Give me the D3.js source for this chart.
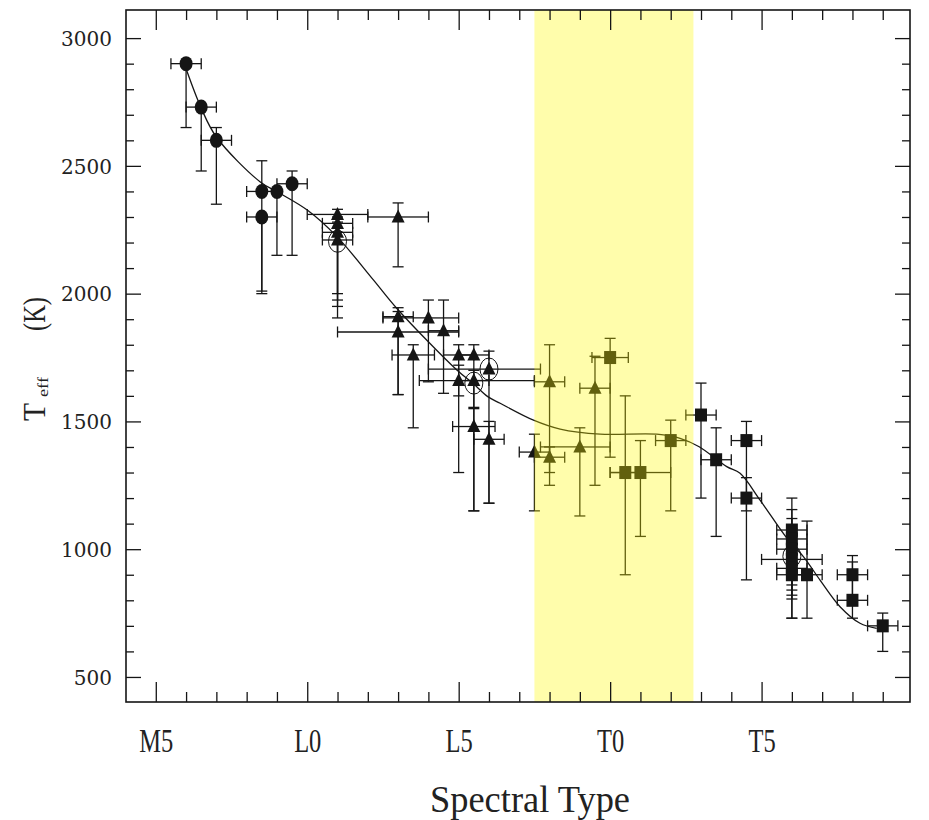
<!DOCTYPE html>
<html>
<head>
<meta charset="utf-8">
<script src="https://cdn.jsdelivr.net/npm/d3@7"></script>
<style>
  html, body { margin: 0; padding: 0; background: #fff; }
  svg { display: block; }
</style>
</head>
<body>
<svg id="chart" width="929" height="820"></svg>
<script>
// ---------------- DATA ----------------
// spectral type code: M5=-5, L0=0, L5=5, T0=10, T5=15
// each row: [spectralType, Teff, TeffLow, TeffHigh, sptLow, sptHigh]
const mDwarfs = [
  [-4,   2900, 2650, 2900, -4.5, -3.5],
  [-3.5, 2730, 2480, 2730, -4,   -3  ],
  [-3,   2600, 2350, 2650, -3.5, -2.5],
  [-1.5, 2400, 2010, 2520, -2,   -1  ],
  [-1.5, 2300, 2000, 2300, -2,   -1  ],
  [-1,   2400, 2150, 2400, -1,   -1  ],
  [-0.5, 2430, 2150, 2480, -1,    0  ]
];
const lDwarfs = [
  [1,   2310, 1950, 2330, 0,   2  ],
  [1,   2275, 2000, 2300, 0.5, 1.5],
  [1,   2240, 1975, 2280, 0.5, 1.5],
  [1,   2210, 1905, 2240, 0.5, 1.5],
  [3,   2300, 2105, 2355, 2,   4  ],
  [3,   1910, 1605, 1945, 2.5, 3.5],
  [3,   1850, 1605, 1930, 1,   5  ],
  [4,   1905, 1655, 1975, 2.5, 5  ],
  [4.5, 1855, 1610, 1975, 4,   5  ],
  [3.5, 1760, 1475, 1800, 2.8, 4.2],
  [5,   1760, 1300, 1800, 4.5, 5.5],
  [5.5, 1760, 1150, 1800, 5,   6  ],
  [6,   1705, 1180, 1775, 4,   7.7],
  [5,   1660, 1600, 1720, 3.7, 7.5],
  [5.5, 1660, 1550, 1700, 5,   6  ],
  [5.5, 1480, 1150, 1555, 4.8, 6.2],
  [6,   1430, 1180, 1500, 5.5, 6.5],
  [7.5, 1380, 1150, 1450, 7,   8  ],
  [8,   1360, 1250, 1400, 7.5, 8.5],
  [8,   1655, 1300, 1800, 7.5, 8.5],
  [9,   1400, 1130, 1475, 7.7, 10 ],
  [9.5, 1630, 1250, 1755, 9,   10 ]
];
const tDwarfs = [
  [10,   1750, 1360, 1825, 9.4,  10.6],
  [10.5, 1300,  900, 1600, 10,   11  ],
  [11,   1300, 1050, 1425, 10,   12  ],
  [12,   1425, 1150, 1505, 11.5, 12.5],
  [13,   1525, 1200, 1650, 12.5, 13.5],
  [13.5, 1350, 1050, 1475, 13,   14  ],
  [14.5, 1425, 1150, 1500, 14,   15  ],
  [14.5, 1200,  880, 1280, 14,   15  ],
  [16,   1075,  860, 1200, 15.5, 16.5],
  [16,   1040,  840, 1155, 15.5, 16.5],
  [16,   1000,  820, 1120, 15.5, 16.5],
  [16,    960,  730, 1080, 15,   17  ],
  [16,    925,  805, 1050, 15.5, 16.5],
  [16,    900,  730, 1000, 15.5, 16.5],
  [16.5,  900,  730, 1110, 16,   17  ],
  [18,    900,  780,  975, 17.5, 18.5],
  [18,    800,  730,  950, 17.5, 18.5],
  [19,    700,  600,  750, 18.5, 19.5]
];
// open rings marking special objects
const ringSpT  = [1, 5.5, 6, 16];
const ringTeff = [2205, 1650, 1705, 972];
// fitted relation
const fitSpT  = [-4, -3.5, -3, -1.55, -1, 0, 0.98, 2.19, 2.96, 4.94, 5.47, 5.96, 6.37, 7.47, 8.35, 9.67, 11.54, 12.31, 12.94, 13.85, 14.29, 14.95, 15.88, 16.38, 16.93, 17.59, 18.25, 18.8];
const fitTeff = [2880, 2726, 2613, 2437, 2399, 2327, 2223, 2053, 1942, 1701, 1649, 1597, 1571, 1505, 1470, 1450, 1450, 1434, 1401, 1323, 1297, 1192, 1036, 971, 879, 775, 710, 690];
// L/T transition band
const bandRange = [7.5, 12.75];
// ticks
const xMajorTicks  = [-5, 0, 5, 10, 15];
const xMajorLabels = ["M5", "L0", "L5", "T0", "T5"];
const xMinorTicks  = d3.range(-5, 20).filter(v => !xMajorTicks.includes(v));
const yMajorTicks  = [500, 1000, 1500, 2000, 2500, 3000];
const yMinorTicks  = d3.range(500, 3100, 100).filter(v => !yMajorTicks.includes(v));

// ---------------- LAYOUT ----------------
const L = 126, R = 910, T = 10, B = 702;
const svg = d3.select("#chart");
const x = d3.scaleLinear().domain([-6, 19.9]).range([125.5, R]);
const y = d3.scaleLinear().domain([402, 3110]).range([B, T]);
const ink = "#151515";

const data = svg.append("g");

// fit curve
const line = d3.line().x((d, i) => x(fitSpT[i])).y(d => y(d)).curve(d3.curveCatmullRom.alpha(0.5));
data.append("path").attr("d", line(fitTeff))
  .attr("fill", "none").attr("stroke", ink).attr("stroke-width", 1.3);

// error bars
function errorBars(rows) {
  const g = data.append("g").attr("stroke", ink).attr("stroke-width", 1.3).attr("fill", "none");
  const cap = 5.5;
  rows.forEach(r => {
    const [s, te, tlo, thi, slo, shi] = r;
    const cx = x(s), cy = y(te);
    if (tlo < te) {
      g.append("line").attr("x1", cx).attr("x2", cx).attr("y1", cy).attr("y2", y(tlo));
      g.append("line").attr("x1", cx - cap).attr("x2", cx + cap).attr("y1", y(tlo)).attr("y2", y(tlo));
    }
    if (thi > te) {
      g.append("line").attr("x1", cx).attr("x2", cx).attr("y1", cy).attr("y2", y(thi));
      g.append("line").attr("x1", cx - cap).attr("x2", cx + cap).attr("y1", y(thi)).attr("y2", y(thi));
    }
    if (slo < s) {
      g.append("line").attr("x1", cx).attr("x2", x(slo)).attr("y1", cy).attr("y2", cy);
      g.append("line").attr("x1", x(slo)).attr("x2", x(slo)).attr("y1", cy - cap).attr("y2", cy + cap);
    }
    if (shi > s) {
      g.append("line").attr("x1", cx).attr("x2", x(shi)).attr("y1", cy).attr("y2", cy);
      g.append("line").attr("x1", x(shi)).attr("x2", x(shi)).attr("y1", cy - cap).attr("y2", cy + cap);
    }
  });
}
errorBars(mDwarfs);
errorBars(lDwarfs);
errorBars(tDwarfs);

// markers
data.append("g").selectAll("ellipse").data(mDwarfs).join("ellipse")
  .attr("cx", d => x(d[0])).attr("cy", d => y(d[1]))
  .attr("rx", 6.5).attr("ry", 7.5).attr("fill", ink);

data.append("g").selectAll("path").data(lDwarfs).join("path")
  .attr("transform", d => `translate(${x(d[0])},${y(d[1])})`)
  .attr("d", "M0,-7.5 L6.5,5.5 L-6.5,5.5 Z").attr("fill", ink);

data.append("g").selectAll("rect").data(tDwarfs).join("rect")
  .attr("x", d => x(d[0]) - 6).attr("y", d => y(d[1]) - 6.5)
  .attr("width", 12).attr("height", 13).attr("fill", ink);

data.append("g").selectAll("ellipse").data(ringSpT).join("ellipse")
  .attr("cx", d => x(d)).attr("cy", (d, i) => y(ringTeff[i]))
  .attr("rx", 9).attr("ry", 11).attr("fill", "none")
  .attr("stroke", ink).attr("stroke-width", 1);

// yellow band, translucent over the data
svg.append("rect")
  .attr("x", x(bandRange[0])).attr("y", T)
  .attr("width", x(bandRange[1]) - x(bandRange[0])).attr("height", B - T)
  .attr("fill", "rgb(255,250,0)").attr("fill-opacity", 0.33);

// ---------------- AXES ----------------
function clean(g) { g.select(".domain").remove(); g.selectAll("line").attr("stroke", ink).attr("stroke-width", 1.3); }

// bottom
svg.append("g").attr("transform", `translate(0,${B})`)
  .call(d3.axisBottom(x).tickValues(xMinorTicks).tickSize(-10).tickFormat(""))
  .call(clean);
const xb = svg.append("g").attr("transform", `translate(0,${B})`)
  .call(d3.axisBottom(x).tickValues(xMajorTicks).tickSize(-20).tickFormat((d, i) => xMajorLabels[i]))
  .call(clean);
xb.selectAll("text")
  .attr("y", 50).attr("dy", 0)
  .attr("font-family", "'Liberation Serif', serif").attr("font-size", 34)
  .attr("fill", "#222").attr("transform", "scale(0.72,1)");
// top
svg.append("g").attr("transform", `translate(0,${T})`)
  .call(d3.axisTop(x).tickValues(xMinorTicks).tickSize(-10).tickFormat(""))
  .call(clean);
svg.append("g").attr("transform", `translate(0,${T})`)
  .call(d3.axisTop(x).tickValues(xMajorTicks).tickSize(-20).tickFormat(""))
  .call(clean);
// left
svg.append("g").attr("transform", `translate(${L},0)`)
  .call(d3.axisLeft(y).tickValues(yMinorTicks).tickSize(-8).tickFormat(""))
  .call(clean);
const yl = svg.append("g").attr("transform", `translate(${L},0)`)
  .call(d3.axisLeft(y).tickValues(yMajorTicks).tickSize(-15).tickFormat(d3.format("d")))
  .call(clean);
yl.selectAll("text")
  .attr("x", -14).attr("dy", "0.36em")
  .attr("font-family", "'DejaVu Serif', serif").attr("font-size", 20).attr("fill", "#222");
// right
svg.append("g").attr("transform", `translate(${R},0)`)
  .call(d3.axisRight(y).tickValues(yMinorTicks).tickSize(-8).tickFormat(""))
  .call(clean);
svg.append("g").attr("transform", `translate(${R},0)`)
  .call(d3.axisRight(y).tickValues(yMajorTicks).tickSize(-15).tickFormat(""))
  .call(clean);

// frame
svg.append("rect").attr("x", L).attr("y", T).attr("width", R - L).attr("height", B - T)
  .attr("fill", "none").attr("stroke", ink).attr("stroke-width", 1.6);

// axis titles
svg.append("text")
  .attr("x", 530).attr("y", 812).attr("text-anchor", "middle")
  .attr("font-family", "'Liberation Serif', serif").attr("font-size", 38).attr("fill", "#222")
  .attr("textLength", 200).attr("lengthAdjust", "spacingAndGlyphs")
  .text("Spectral Type");

const yt = svg.append("g").attr("transform", "translate(45,0) rotate(-90)")
  .attr("font-family", "'Liberation Serif', serif").attr("fill", "#222");
yt.append("text").attr("x", -421).attr("y", 0).attr("font-size", 32)
  .attr("textLength", 18).attr("lengthAdjust", "spacingAndGlyphs").text("T");
yt.append("text").attr("x", -397).attr("y", 3).attr("font-size", 14)
  .attr("textLength", 20).attr("lengthAdjust", "spacingAndGlyphs").text("eff");
yt.append("text").attr("x", -331).attr("y", 0).attr("font-size", 32)
  .attr("textLength", 34).attr("lengthAdjust", "spacingAndGlyphs").text("(K)");
</script>
</body>
</html>
